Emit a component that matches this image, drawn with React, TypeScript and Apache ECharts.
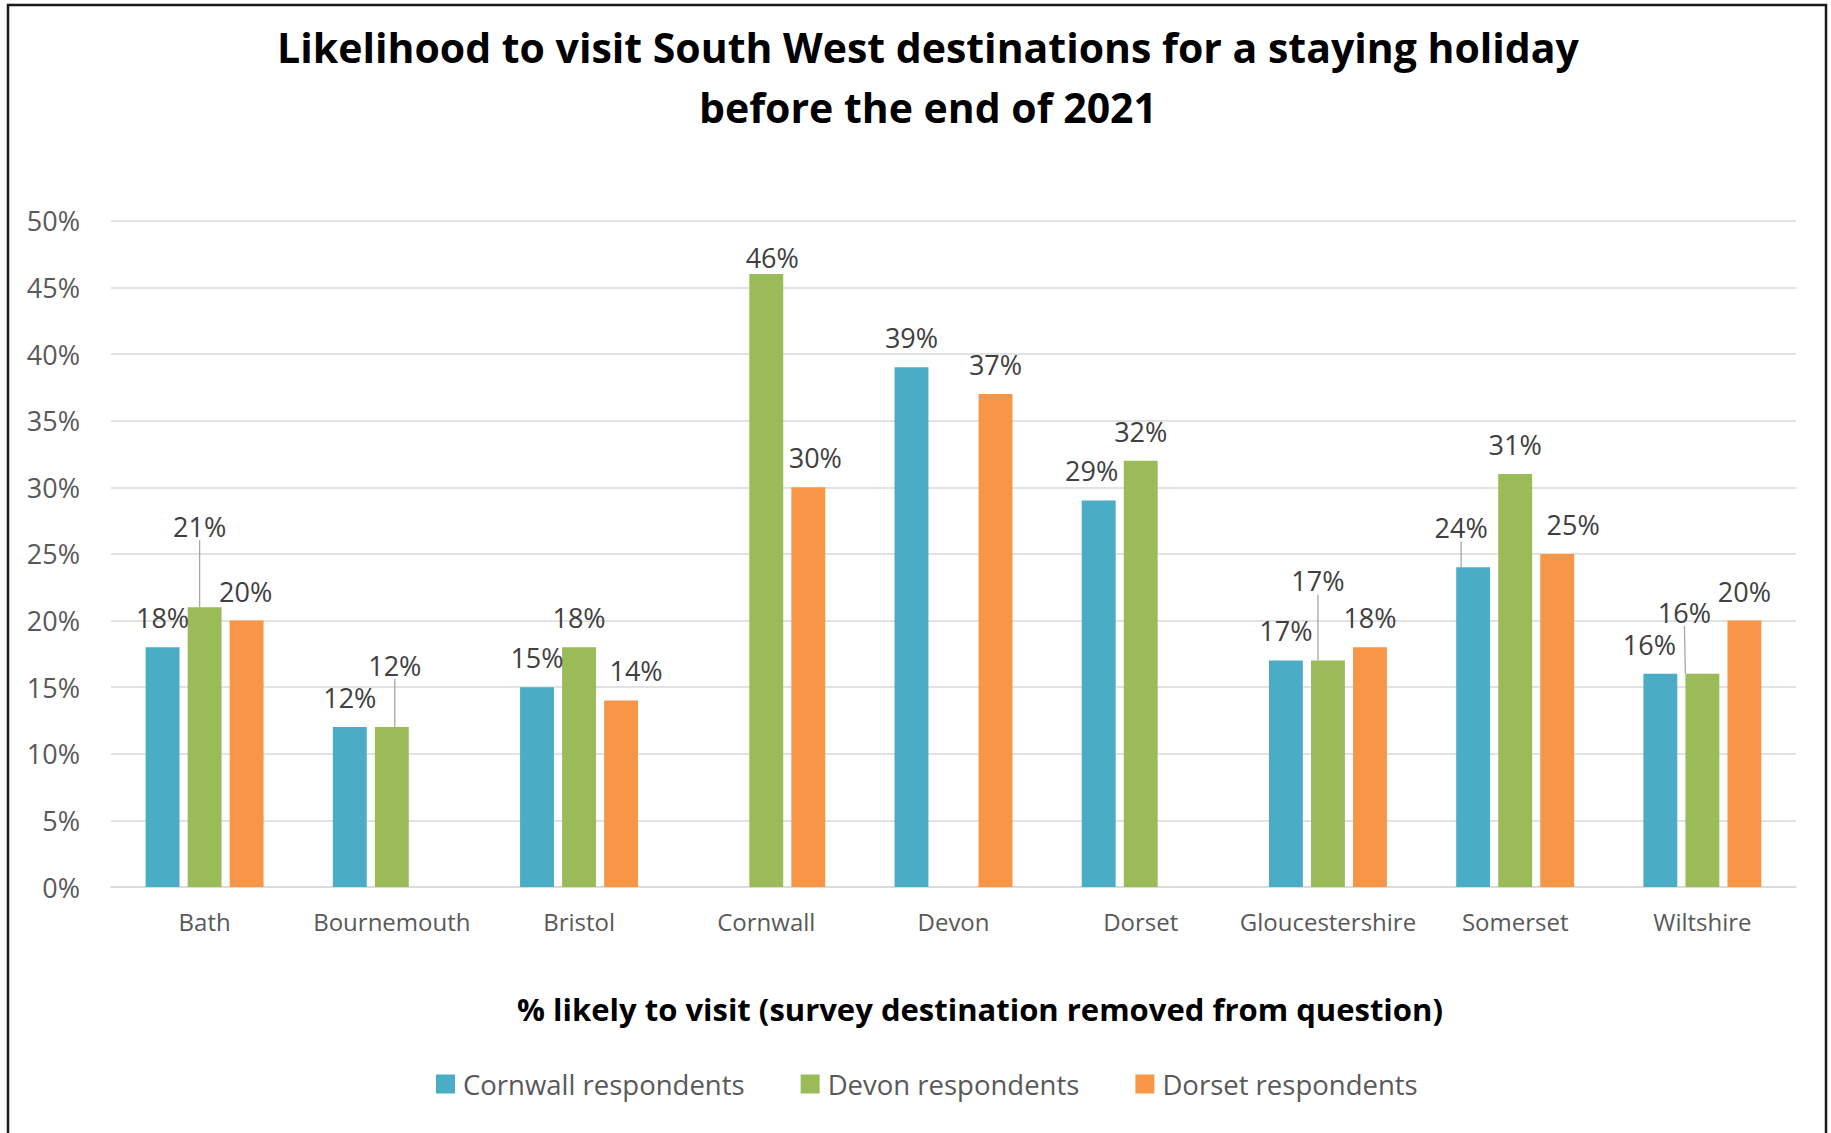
import React, { useEffect, useRef } from "react";
import * as echarts from "echarts";

const categories = [
  "Bath",
  "Bournemouth",
  "Bristol",
  "Cornwall",
  "Devon",
  "Dorset",
  "Gloucestershire",
  "Somerset",
  "Wiltshire",
];

const cornwallRespondents = [18, 12, 15, null, 39, 29, 17, 24, 16];
const devonRespondents = [21, 12, 18, 46, null, 32, 17, 31, 16];
const dorsetRespondents = [20, null, 14, 30, 37, null, 18, 25, 20];

const seriesNames = ["Cornwall respondents", "Devon respondents", "Dorset respondents"];
const seriesColors = ["#4BACC6", "#9BBB59", "#F79646"];

const yTicks = { min: 0, max: 50, interval: 5 };

// label nudges (style only), per series, per category
const labelDx = [
  [0, 0, 0, 0, 0, -7, 0, -12, -11],
  [-5, 3, 0, 6, 0, 0, -10, 0, -18],
  [-1, 0, 15, 7, 0, 0, 0, 16, 0],
];
const labelDy = [
  [0, 0, 0, 0, 0, -1, 0, -10, 0],
  [-51, -32, 0, 13, 0, 0, -50, 0, -32],
  [0, 0, 0, 0, 0, 0, 0, 0, 0],
];
const leaderLines = [
  [false, false, false, false, false, false, false, true, false],
  [true, true, false, false, false, false, true, false, true],
  [false, false, false, false, false, false, false, false, false],
];

const FONT = "'Open Sans', 'Noto Sans', sans-serif";

export default function App() {
  const ref = useRef<HTMLDivElement>(null);

  useEffect(() => {
    if (!ref.current) return;
    const chart = echarts.init(ref.current, undefined, { renderer: "svg" });

    const allData = [cornwallRespondents, devonRespondents, dorsetRespondents];

    const series = allData.map((arr, si) => ({
      type: "bar",
      name: seriesNames[si],
      barCategoryGap: "37%",
      barGap: "24%",
      itemStyle: { color: seriesColors[si] },
      label: {
        show: true,
        position: "top",
        distance: 16,
        formatter: "{c}%",
        fontFamily: FONT,
        fontSize: 27,
        color: "#404040",
      },
      labelLayout: (params: any) => ({
        dx: labelDx[si][params.dataIndex] || 0,
        dy: labelDy[si][params.dataIndex] || 0,
      }),
      data: arr.map((v, ci) => {
        const item: any = { value: v === null ? "-" : v };
        if (leaderLines[si][ci]) {
          item.labelLine = {
            show: true,
            lineStyle: { color: "#A6A6A6", width: 1.3 },
          };
        }
        return item;
      }),
    }));

    chart.setOption({
      animation: false,
      backgroundColor: "#ffffff",
      grid: {
        left: 111,
        right: 35,
        top: 220.8,
        bottom: 246,
        containLabel: false,
      },
      legend: {
        left: 436,
        top: 1070,
        padding: 0,
        itemWidth: 19,
        itemHeight: 19,
        itemGap: 56,
        icon: "rect",
        data: seriesNames,
        textStyle: {
          fontFamily: FONT,
          fontSize: 27.5,
          color: "#595959",
          padding: [0, 0, 0, 3],
        },
      },
      xAxis: {
        type: "category",
        data: categories,
        axisTick: { show: false },
        axisLine: { show: true, lineStyle: { color: "#D9D9D9", width: 1.5 } },
        axisLabel: {
          fontFamily: FONT,
          fontSize: 24,
          color: "#595959",
          margin: 22,
          interval: 0,
        },
      },
      yAxis: {
        type: "value",
        min: yTicks.min,
        max: yTicks.max,
        interval: yTicks.interval,
        axisLine: { show: false },
        axisTick: { show: false },
        splitLine: { lineStyle: { color: "#D9D9D9", width: 1.5 } },
        axisLabel: {
          formatter: "{value}%",
          fontFamily: FONT,
          fontSize: 27,
          color: "#595959",
          margin: 31,
        },
      },
      graphic: [
        {
          type: "rect",
          silent: true,
          z: -10,
          shape: { x: 8, y: 5, width: 1818, height: 1200 },
          style: { fill: "none", stroke: "#1a1a1a", lineWidth: 2.5 },
        },
        {
          type: "text",
          x: 928,
          y: 47,
          style: {
            text: "Likelihood to visit South West destinations for a staying holiday",
            align: "center",
            verticalAlign: "middle",
            textAlign: "center",
            textVerticalAlign: "middle",
            fontFamily: FONT,
            fontWeight: "bold",
            fontSize: 41,
            fill: "#000000",
          },
        },
        {
          type: "text",
          x: 928,
          y: 107,
          style: {
            text: "before the end of 2021",
            align: "center",
            verticalAlign: "middle",
            textAlign: "center",
            textVerticalAlign: "middle",
            fontFamily: FONT,
            fontWeight: "bold",
            fontSize: 41,
            fill: "#000000",
          },
        },
        {
          type: "text",
          x: 980,
          y: 1009,
          style: {
            text: "% likely to visit (survey destination removed from question)",
            align: "center",
            verticalAlign: "middle",
            textAlign: "center",
            textVerticalAlign: "middle",
            fontFamily: FONT,
            fontWeight: "bold",
            fontSize: 31,
            fill: "#000000",
          },
        },
      ],
      series,
    });

    return () => {
      chart.dispose();
    };
  }, []);

  return (
    <div
      ref={ref}
      style={{ position: "absolute", left: 0, top: 0, width: 1831, height: 1133 }}
    />
  );
}
